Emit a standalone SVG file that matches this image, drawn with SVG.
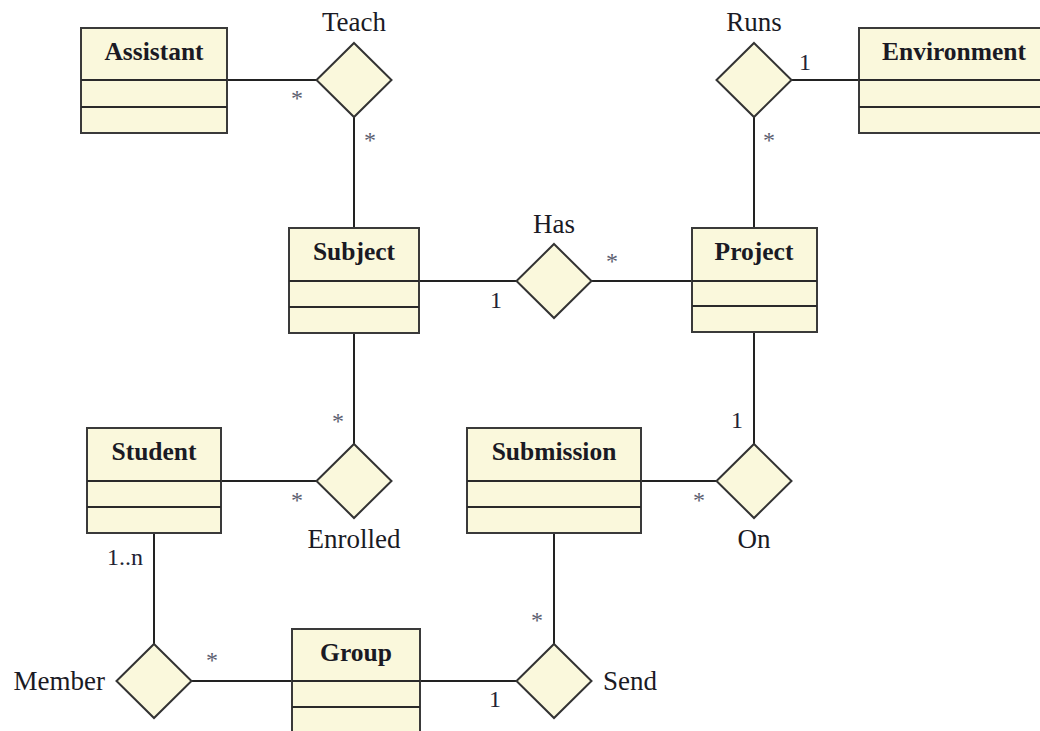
<svg xmlns="http://www.w3.org/2000/svg" width="1040" height="731" viewBox="0 0 1040 731">
  <style>
    .cls rect { fill: #faf8dc; stroke: #3a3a3a; stroke-width: 2; }
    .cls line { stroke: #2a2a2a; stroke-width: 2; }
    .cls text { font-family: "Liberation Serif", "Times New Roman", serif; font-weight: bold; font-size: 25.5px; fill: #1a1a24; text-anchor: middle; }
    .rel polygon { fill: #faf8dc; stroke: #333333; stroke-width: 2; }
    .rel text { font-family: "Liberation Serif", "Times New Roman", serif; font-size: 27px; fill: #1a1a24; }
    #connectors line { stroke: #222222; stroke-width: 2; }
    .mult { font-family: "Liberation Serif", "Times New Roman", serif; font-size: 24px; fill: #222233; }
    .star { font-family: "Liberation Serif", "Times New Roman", serif; font-size: 24px; fill: #5c6070; text-anchor: middle; }
  </style>

  <!-- connectors drawn first so boxes and diamonds sit on top -->
  <g id="connectors">
    <line x1="227" y1="80" x2="317" y2="80"/>
    <line x1="354" y1="117" x2="354" y2="228"/>
    <line x1="791" y1="80" x2="859" y2="80"/>
    <line x1="754" y1="117" x2="754" y2="228"/>
    <line x1="419" y1="281" x2="517" y2="281"/>
    <line x1="591" y1="281" x2="692" y2="281"/>
    <line x1="354" y1="333" x2="354" y2="444"/>
    <line x1="221" y1="481" x2="317" y2="481"/>
    <line x1="754" y1="332" x2="754" y2="444"/>
    <line x1="641" y1="481" x2="717" y2="481"/>
    <line x1="154" y1="533" x2="154" y2="644"/>
    <line x1="192" y1="681" x2="292" y2="681"/>
    <line x1="420" y1="681" x2="517" y2="681"/>
    <line x1="554" y1="533" x2="554" y2="644"/>
  </g>

  <!-- classes -->
  <g id="assistant" class="cls">
    <rect x="81" y="28" width="146" height="105"/>
    <line x1="81" y1="80" x2="227" y2="80"/>
    <line x1="81" y1="107" x2="227" y2="107"/>
    <text x="154" y="60">Assistant</text>
  </g>
  <g id="environment" class="cls">
    <rect x="859" y="28" width="190" height="105"/>
    <line x1="859" y1="80" x2="1049" y2="80"/>
    <line x1="859" y1="107" x2="1049" y2="107"/>
    <text x="954" y="60">Environment</text>
  </g>
  <g id="subject" class="cls">
    <rect x="289" y="228" width="130" height="105"/>
    <line x1="289" y1="281" x2="419" y2="281"/>
    <line x1="289" y1="307" x2="419" y2="307"/>
    <text x="354" y="260">Subject</text>
  </g>
  <g id="project" class="cls">
    <rect x="692" y="228" width="125" height="104"/>
    <line x1="692" y1="281" x2="817" y2="281"/>
    <line x1="692" y1="306" x2="817" y2="306"/>
    <text x="754" y="260">Project</text>
  </g>
  <g id="student" class="cls">
    <rect x="87" y="428" width="134" height="105"/>
    <line x1="87" y1="481" x2="221" y2="481"/>
    <line x1="87" y1="507" x2="221" y2="507"/>
    <text x="154" y="460">Student</text>
  </g>
  <g id="submission" class="cls">
    <rect x="467" y="428" width="174" height="105"/>
    <line x1="467" y1="481" x2="641" y2="481"/>
    <line x1="467" y1="507" x2="641" y2="507"/>
    <text x="554" y="460">Submission</text>
  </g>
  <g id="group" class="cls">
    <rect x="292" y="629" width="128" height="110"/>
    <line x1="292" y1="681" x2="420" y2="681"/>
    <line x1="292" y1="707" x2="420" y2="707"/>
    <text x="356" y="661">Group</text>
  </g>

  <!-- relationships -->
  <g id="teach" class="rel">
    <polygon points="354,43 391.5,80 354,117 316.5,80"/>
    <text x="354" y="31" text-anchor="middle">Teach</text>
  </g>
  <g id="runs" class="rel">
    <polygon points="754,43 791.5,80 754,117 716.5,80"/>
    <text x="754" y="31" text-anchor="middle">Runs</text>
  </g>
  <g id="has" class="rel">
    <polygon points="554,244 591.5,281 554,318 516.5,281"/>
    <text x="554" y="233" text-anchor="middle">Has</text>
  </g>
  <g id="enrolled" class="rel">
    <polygon points="354,444 391.5,481 354,518 316.5,481"/>
    <text x="354" y="548" text-anchor="middle">Enrolled</text>
  </g>
  <g id="on" class="rel">
    <polygon points="754,444 791.5,481 754,518 716.5,481"/>
    <text x="754" y="548" text-anchor="middle">On</text>
  </g>
  <g id="member" class="rel">
    <polygon points="154,644 191.5,681 154,718 116.5,681"/>
    <text x="105" y="690" text-anchor="end">Member</text>
  </g>
  <g id="send" class="rel">
    <polygon points="554,644 591.5,681 554,718 516.5,681"/>
    <text x="603" y="690">Send</text>
  </g>

  <!-- multiplicities -->
  <g id="multiplicities">
    <text class="star" x="297" y="106">*</text>
    <text class="star" x="370" y="148">*</text>
    <text class="mult" x="799" y="70">1</text>
    <text class="star" x="769" y="148">*</text>
    <text class="mult" x="490" y="308">1</text>
    <text class="star" x="612" y="269">*</text>
    <text class="star" x="338" y="429">*</text>
    <text class="star" x="297" y="508">*</text>
    <text class="mult" x="731" y="428">1</text>
    <text class="star" x="699" y="508">*</text>
    <text class="mult" x="107" y="565">1..n</text>
    <text class="star" x="212" y="668">*</text>
    <text class="star" x="537" y="628">*</text>
    <text class="mult" x="489" y="707">1</text>
  </g>
</svg>
